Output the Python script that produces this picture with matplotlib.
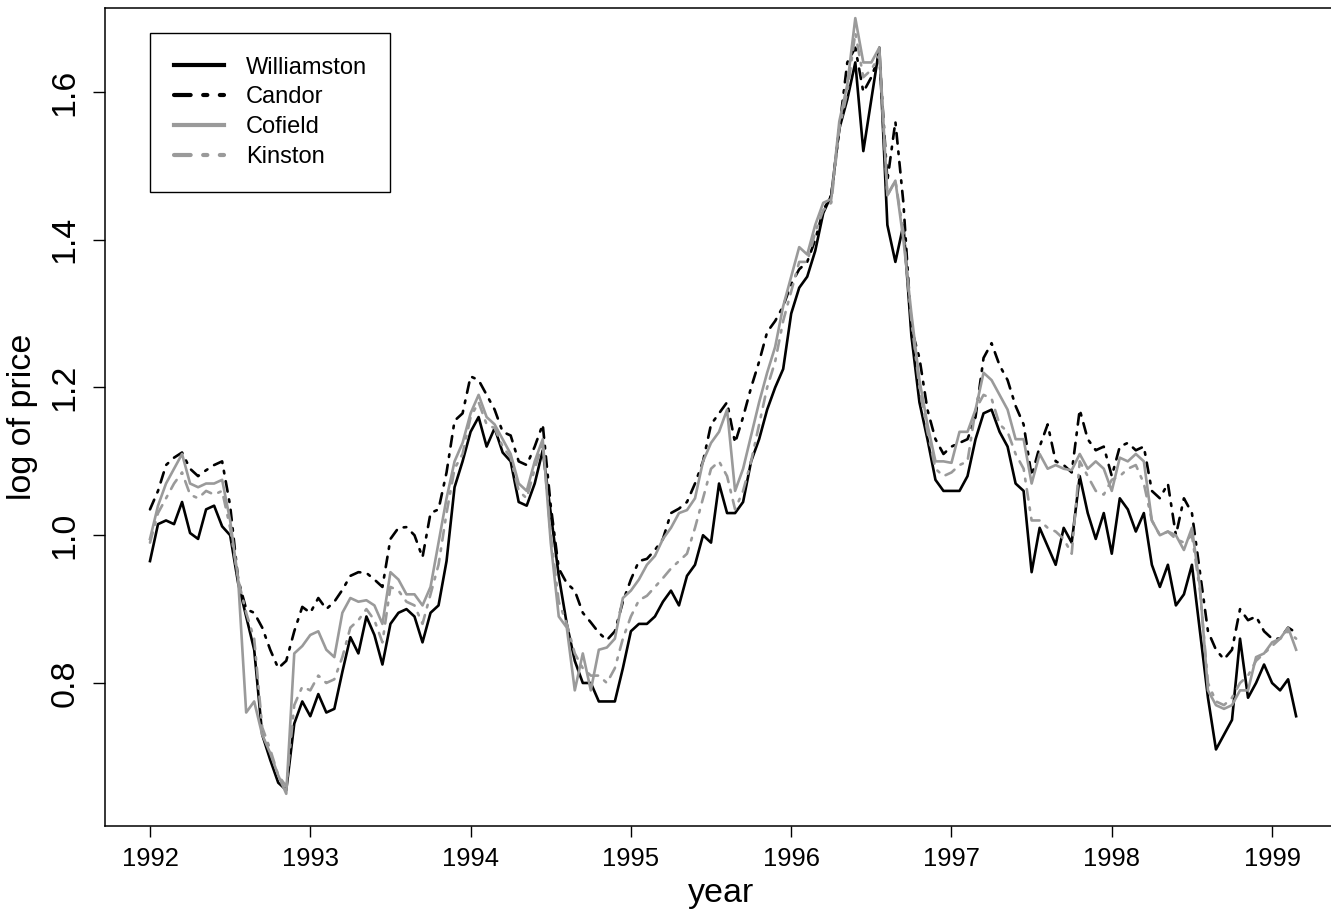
import numpy as np
import matplotlib
matplotlib.use("Agg")
import matplotlib.pyplot as plt

plt.rcParams["font.family"] = ["Liberation Sans", "DejaVu Sans"]

# half-monthly samples (0.05 yr) starting Jan 1992
START_YEAR = 1992.0
STEP = 0.05

williamston = [
    0.965, 1.015, 1.02, 1.015, 1.045, 1.003, 0.995, 1.035, 1.04, 1.012,
    1.00, 0.935, 0.89, 0.845, 0.73, 0.696, 0.665, 0.655, 0.745, 0.775,
    0.755, 0.785, 0.76, 0.765, 0.815, 0.862, 0.84, 0.89, 0.865, 0.825,
    0.88, 0.895, 0.90, 0.89, 0.855, 0.895, 0.905, 0.965, 1.065, 1.10,
    1.14, 1.16, 1.12, 1.145, 1.112, 1.10, 1.045, 1.04, 1.07, 1.115,
    1.03, 0.945, 0.88, 0.83, 0.80, 0.80, 0.775, 0.775, 0.775, 0.82,
    0.87, 0.88, 0.88, 0.89, 0.91, 0.925, 0.905, 0.945, 0.96, 1.00,
    0.99, 1.07, 1.03, 1.03, 1.045, 1.10, 1.13, 1.17, 1.20, 1.225,
    1.30, 1.335, 1.35, 1.385, 1.436, 1.46, 1.55, 1.59, 1.64, 1.52,
    1.59, 1.66, 1.42, 1.37, 1.42, 1.27, 1.18, 1.13, 1.075, 1.06,
    1.06, 1.06, 1.08, 1.13, 1.165, 1.17, 1.14, 1.12, 1.07, 1.06,
    0.95, 1.01, 0.985, 0.96, 1.01, 0.99, 1.08, 1.03, 0.995, 1.03,
    0.975, 1.05, 1.035, 1.005, 1.03, 0.96, 0.93, 0.96, 0.905, 0.92,
    0.96, 0.87, 0.78, 0.71, 0.73, 0.75, 0.86, 0.78, 0.80, 0.825,
    0.80, 0.79, 0.805, 0.755,
]

candor = [
    1.035, 1.06, 1.095, 1.105, 1.112, 1.09, 1.08, 1.088, 1.095, 1.10,
    1.04, 0.94, 0.90, 0.895, 0.875, 0.845, 0.82, 0.83, 0.87, 0.903,
    0.895, 0.915, 0.90, 0.91, 0.926, 0.945, 0.95, 0.949, 0.94, 0.93,
    0.995, 1.01, 1.011, 1.00, 0.97, 1.03, 1.035, 1.085, 1.155, 1.165,
    1.215, 1.21, 1.19, 1.17, 1.14, 1.135, 1.10, 1.095, 1.12, 1.15,
    1.04, 0.955, 0.935, 0.925, 0.895, 0.882, 0.868, 0.858, 0.87, 0.91,
    0.94, 0.965, 0.968, 0.98, 0.995, 1.03, 1.036, 1.045, 1.07, 1.10,
    1.15, 1.165, 1.18, 1.125, 1.16, 1.20, 1.235, 1.275, 1.29, 1.31,
    1.34, 1.36, 1.37, 1.40, 1.44, 1.46, 1.55, 1.64, 1.66, 1.60,
    1.62, 1.65, 1.48, 1.56, 1.45, 1.28, 1.24, 1.17, 1.13, 1.11,
    1.12, 1.125, 1.13, 1.16, 1.24, 1.26, 1.23, 1.21, 1.175, 1.15,
    1.08, 1.12, 1.15, 1.10, 1.095, 1.085, 1.17, 1.13, 1.115, 1.12,
    1.08, 1.12, 1.125, 1.115, 1.12, 1.06, 1.05, 1.07, 1.00, 1.05,
    1.03, 0.95, 0.87, 0.845, 0.832, 0.845, 0.90, 0.885, 0.89, 0.87,
    0.86, 0.86, 0.875, 0.868,
]

cofield = [
    0.995, 1.04, 1.07, 1.09, 1.11, 1.07, 1.065, 1.07, 1.07, 1.075,
    1.02, 0.94, 0.76, 0.775, 0.73, 0.705, 0.675, 0.65, 0.84, 0.85,
    0.865, 0.87, 0.845, 0.835, 0.895, 0.915, 0.91, 0.912, 0.905, 0.88,
    0.95, 0.94, 0.92, 0.92, 0.905, 0.93, 0.99, 1.05, 1.10, 1.125,
    1.165, 1.19, 1.16, 1.15, 1.13, 1.11, 1.07, 1.06, 1.10, 1.13,
    0.99, 0.89, 0.875, 0.79, 0.84, 0.79, 0.845, 0.848, 0.86, 0.915,
    0.925, 0.94, 0.96, 0.972, 0.995, 1.01, 1.03, 1.034, 1.05, 1.10,
    1.125, 1.14, 1.17, 1.06, 1.09, 1.135, 1.18, 1.22, 1.255, 1.31,
    1.35, 1.39, 1.38, 1.42, 1.45, 1.455, 1.56, 1.61, 1.70, 1.64,
    1.64, 1.66, 1.46, 1.48, 1.40, 1.30, 1.21, 1.15, 1.10, 1.10,
    1.098, 1.14, 1.14, 1.17, 1.22, 1.21, 1.19, 1.17, 1.13, 1.13,
    1.07, 1.11, 1.09, 1.095, 1.09, 1.088, 1.11, 1.09, 1.10, 1.09,
    1.06, 1.105, 1.10, 1.11, 1.10, 1.02, 1.00, 1.005, 1.00, 0.98,
    1.01, 0.93, 0.79, 0.77, 0.765, 0.77, 0.79, 0.79, 0.835, 0.84,
    0.855, 0.86, 0.875, 0.845,
]

kinston = [
    0.99, 1.03, 1.05, 1.07, 1.085, 1.055, 1.05, 1.06, 1.055, 1.06,
    1.01, 0.94, 0.895, 0.86, 0.74, 0.71, 0.675, 0.66, 0.77, 0.795,
    0.79, 0.81, 0.80, 0.805, 0.835, 0.875, 0.885, 0.90, 0.885, 0.855,
    0.93, 0.925, 0.91, 0.905, 0.88, 0.92, 0.96, 1.03, 1.09, 1.11,
    1.16, 1.18, 1.15, 1.145, 1.12, 1.105, 1.06, 1.05, 1.09, 1.125,
    1.00, 0.91, 0.88, 0.84, 0.82, 0.81, 0.81, 0.80, 0.82, 0.86,
    0.89, 0.912, 0.918, 0.93, 0.942, 0.955, 0.965, 0.975, 1.01, 1.05,
    1.09, 1.10, 1.08, 1.035, 1.06, 1.10, 1.15, 1.20, 1.235, 1.29,
    1.33, 1.37, 1.37, 1.41, 1.44, 1.45, 1.55, 1.60, 1.68, 1.62,
    1.63, 1.65, 1.46, 1.48, 1.41, 1.29, 1.20, 1.14, 1.09, 1.08,
    1.085, 1.095, 1.10, 1.17, 1.19, 1.185, 1.15, 1.14, 1.11, 1.09,
    1.02, 1.02, 1.01, 1.005, 0.995, 0.975, 1.10, 1.08, 1.06, 1.055,
    1.075, 1.08, 1.09, 1.095, 1.07, 1.02, 1.00, 1.005, 0.995, 0.99,
    1.00, 0.925, 0.80, 0.775, 0.77, 0.78, 0.80, 0.81, 0.83, 0.84,
    0.85, 0.86, 0.87, 0.86,
]

series_names = ["Williamston", "Candor", "Cofield", "Kinston"]
series_colors = ["black", "black", "#9a9a9a", "#9a9a9a"]
series_dashed = [False, True, False, True]


def main():
    years = START_YEAR + STEP * np.arange(len(williamston))

    fig = plt.figure(figsize=(13.31, 9.15), dpi=100)
    ax = fig.add_axes([105 / 1331, 89 / 915, 1232 / 1331, 818 / 915])

    for vals, name, col, dashed in zip(
            [williamston, candor, cofield, kinston],
            series_names, series_colors, series_dashed):
        line, = ax.plot(years, vals, color=col, linewidth=1.9, label=name,
                        solid_joinstyle="round", dash_capstyle="round")
        if dashed:
            line.set_dashes((4, 3, 1, 3))

    ax.set_xlim(1991.7193, 1999.405)
    ax.set_ylim(0.6064, 1.7137)
    ax.set_xticks(range(1992, 2000))
    ax.set_yticks([0.8, 1.0, 1.2, 1.4, 1.6])
    ax.set_yticklabels(["0.8", "1.0", "1.2", "1.4", "1.6"])

    ax.tick_params(axis="x", labelsize=18.4, length=8, width=1, pad=7)
    ax.tick_params(axis="y", labelsize=24.5, length=8.6, width=1, pad=9,
                   labelrotation=90)
    for lab in ax.get_yticklabels():
        lab.set_va("center")

    for sp in ax.spines.values():
        sp.set_linewidth(1.1)

    ax.set_xlabel("year", fontsize=24.5, labelpad=5)
    ax.set_ylabel("log of price", fontsize=24.5, labelpad=8)

    leg = ax.legend(loc="upper left",
                    bbox_to_anchor=(150 / 1331, 1 - 33 / 915),
                    bbox_transform=fig.transFigure,
                    fontsize=17, fancybox=False, framealpha=1,
                    edgecolor="black", borderaxespad=0, borderpad=1.0,
                    labelspacing=0.33, handlelength=2.15, handletextpad=0.9)
    leg.get_frame().set_linewidth(1.0)
    for h in leg.get_lines():
        h.set_linewidth(3.0)

    fig.savefig("out.png", dpi=100)


if __name__ == "__main__":
    main()
